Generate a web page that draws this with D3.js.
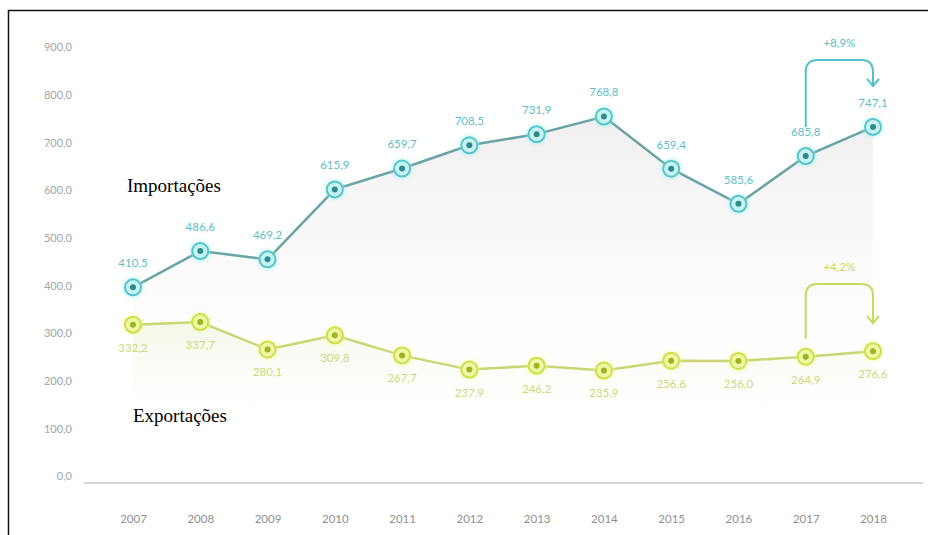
<!DOCTYPE html>
<html>
<head>
<meta charset="utf-8">
<script src="https://cdn.jsdelivr.net/npm/d3@7/dist/d3.min.js"></script>
<style>
  html, body { margin: 0; padding: 0; background: #fff; }
  svg { display: block; }
</style>
</head>
<body>
<svg id="chart" width="928" height="535"></svg>
<script>
// Annual trade values (imports vs exports), 2007–2018
const years = ["2007","2008","2009","2010","2011","2012","2013","2014","2015","2016","2017","2018"];
const importacoes = [410.5, 486.6, 469.2, 615.9, 659.7, 708.5, 731.9, 768.8, 659.4, 585.6, 685.8, 747.1];
const exportacoes = [332.2, 337.7, 280.1, 309.8, 267.7, 237.9, 246.2, 235.9, 256.6, 256.0, 264.9, 276.6];
const yTicks = [0, 100, 200, 300, 400, 500, 600, 700, 800, 900];
const seriesNames = ["Importações", "Exportações"];
const variationLabels = ["+8,9%", "+4,2%"];

const svg = d3.select("#chart");
const W = 928, H = 535;

const locale = d3.formatLocale({ decimal: ",", thousands: ".", grouping: [3], currency: ["R$", ""] });
const fmt = locale.format(".1f");

const x = d3.scalePoint().domain(years).range([133, 873]);
const y = d3.scaleLinear().domain([0, 900]).range([483, 54]);

const defs = svg.append("defs");
const gImp = defs.append("linearGradient").attr("id", "impFill").attr("x1", 0).attr("y1", 0).attr("x2", 0).attr("y2", 1);
gImp.append("stop").attr("offset", "0%").attr("stop-color", "#ececec").attr("stop-opacity", 0.85);
gImp.append("stop").attr("offset", "100%").attr("stop-color", "#ffffff").attr("stop-opacity", 0);
const gExp = defs.append("linearGradient").attr("id", "expFill").attr("x1", 0).attr("y1", 0).attr("x2", 0).attr("y2", 1);
gExp.append("stop").attr("offset", "0%").attr("stop-color", "#f4f6e4").attr("stop-opacity", 0.9);
gExp.append("stop").attr("offset", "100%").attr("stop-color", "#ffffff").attr("stop-opacity", 0);
defs.append("filter").attr("id", "glow").attr("x", "-50%").attr("y", "-50%").attr("width", "200%").attr("height", "200%")
  .append("feGaussianBlur").attr("stdDeviation", 2);

// Frame
svg.append("path")
  .attr("d", `M8.5,${H} V10.5 H${W}`)
  .attr("fill", "none").attr("stroke", "#111").attr("stroke-width", 1.5);

// Soft fills under the two lines
const impArea = d3.area().x((d, i) => x(years[i])).y0(y(120)).y1(d => y(d));
const expArea = d3.area().x((d, i) => x(years[i])).y0(y(120)).y1(d => y(d));
svg.append("path").datum(importacoes).attr("d", impArea).attr("fill", "url(#impFill)");
svg.append("path").datum(exportacoes).attr("d", expArea).attr("fill", "url(#expFill)");

// Y axis labels (no tick marks, no domain)
const yAxis = svg.append("g").attr("transform", "translate(72,0)")
  .call(d3.axisLeft(y).tickValues(yTicks).tickFormat(fmt).tickSize(0).tickPadding(0));
yAxis.select(".domain").remove();
yAxis.selectAll("text")
  .attr("dy", "-0.3em")
  .attr("fill", "#a3a3a3")
  .style("font-family", "Lato, 'Open Sans', sans-serif")
  .style("font-size", "11px");

// Baseline
svg.append("line")
  .attr("x1", 84).attr("x2", 923).attr("y1", y(0)).attr("y2", y(0))
  .attr("stroke", "#d6d6d6").attr("stroke-width", 2);

// X axis labels
const xAxis = svg.append("g").attr("transform", `translate(0,${y(0) + 36})`)
  .call(d3.axisBottom(x).tickSize(0).tickPadding(0));
xAxis.select(".domain").remove();
xAxis.selectAll("text")
  .attr("dy", "0.35em")
  .attr("fill", "#8f8f8f")
  .style("font-family", "Lato, 'Open Sans', sans-serif")
  .style("font-size", "11.5px");

function drawSeries(values, cfg) {
  const line = d3.line().x((d, i) => x(years[i])).y(d => y(d));
  svg.append("path").datum(values)
    .attr("d", line).attr("fill", "none")
    .attr("stroke", cfg.line).attr("stroke-width", 2.5);

  const g = svg.append("g");
  const pts = g.selectAll("g.pt").data(values).join("g")
    .attr("transform", (d, i) => `translate(${x(years[i])},${y(d)})`);
  pts.append("circle").attr("r", 10).attr("fill", cfg.glow).attr("opacity", 0.6).attr("filter", "url(#glow)");
  pts.append("circle").attr("r", 8).attr("fill", cfg.fill).attr("stroke", cfg.ring).attr("stroke-width", 2);
  pts.append("circle").attr("r", 3).attr("fill", cfg.dot);

  g.selectAll("text.lbl").data(values).join("text")
    .attr("x", (d, i) => x(years[i]))
    .attr("y", d => y(d) + cfg.labelOffset)
    .attr("text-anchor", "middle")
    .attr("dominant-baseline", "middle")
    .attr("fill", cfg.text)
    .style("font-family", "Lato, 'Open Sans', sans-serif")
    .style("font-size", "11.5px")
    .text(d => fmt(d));
}

drawSeries(importacoes, {
  line: "#6aa3a5", glow: "#9eeeee", fill: "#c9f3f3", ring: "#55c6cc", dot: "#2e8a8c",
  text: "#5dbfc6", labelOffset: -23
});
drawSeries(exportacoes, {
  line: "#c9d673", glow: "#eefc9a", fill: "#eef8a8", ring: "#cde046", dot: "#9db51e",
  text: "#cbd979", labelOffset: 24
});

// Variation brackets 2017 -> 2018
function bracket(values, top, startGap, endGap, label, color) {
  const x0 = x("2017"), x1 = x("2018");
  const yStart = y(values[10]) - startGap;
  const yEnd = y(values[11]) - endGap;
  const r = 12;
  const p = d3.path();
  p.moveTo(x0, yStart);
  p.lineTo(x0, top + r);
  p.quadraticCurveTo(x0, top, x0 + r, top);
  p.lineTo(x1 - r, top);
  p.quadraticCurveTo(x1, top, x1, top + r);
  p.lineTo(x1, yEnd);
  svg.append("path").attr("d", p.toString())
    .attr("fill", "none").attr("stroke", color).attr("stroke-width", 2);
  svg.append("path")
    .attr("d", `M${x1 - 6},${yEnd - 7} L${x1},${yEnd} L${x1 + 6},${yEnd - 7}`)
    .attr("fill", "none").attr("stroke", color).attr("stroke-width", 2);
  svg.append("text")
    .attr("x", (x0 + x1) / 2).attr("y", top - 16)
    .attr("text-anchor", "middle").attr("dominant-baseline", "middle")
    .attr("fill", color)
    .style("font-family", "Lato, 'Open Sans', sans-serif")
    .style("font-size", "11.5px")
    .text(label);
}
bracket(importacoes, 60, 29, 41, variationLabels[0], "#4fc3c9");
bracket(exportacoes, 284, 18, 28, variationLabels[1], "#c7da5a");

// Series names
svg.append("text").attr("x", 127).attr("y", 192)
  .attr("fill", "#000")
  .style("font-family", "'Liberation Serif', 'Times New Roman', serif")
  .style("font-size", "19px")
  .text(seriesNames[0]);
svg.append("text").attr("x", 133).attr("y", 422)
  .attr("fill", "#000")
  .style("font-family", "'Liberation Serif', 'Times New Roman', serif")
  .style("font-size", "19px")
  .text(seriesNames[1]);
</script>
</body>
</html>
